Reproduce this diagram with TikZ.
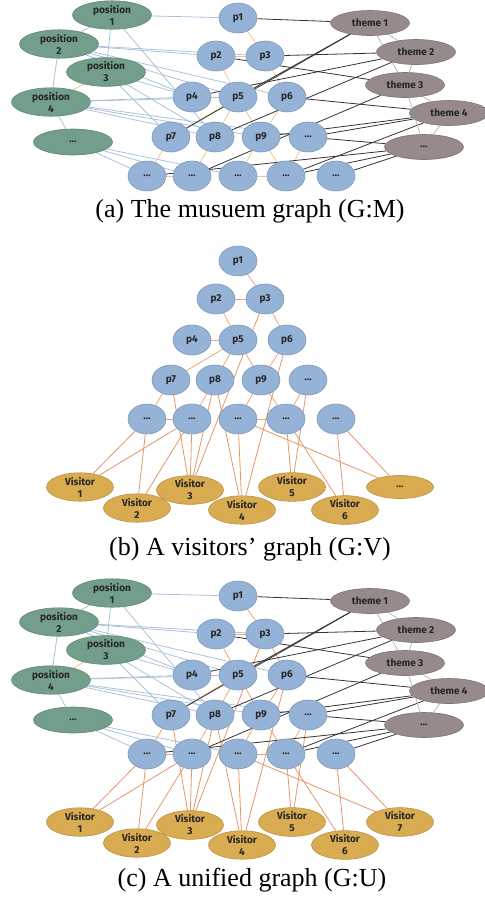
\documentclass[tikz,border=0pt]{standalone}
\usepackage{fontspec}
\setmainfont{Liberation Serif}
\setsansfont{Fira Sans}
\usetikzlibrary{shapes.geometric}
\usetikzlibrary{backgrounds}

\definecolor{pblue}{HTML}{95B3D7}
\definecolor{pgreen}{HTML}{739E8C}
\definecolor{tgrey}{HTML}{968A8A}
\definecolor{vgold}{HTML}{DAAC52}
\definecolor{posedge}{HTML}{A9C2DD}
\definecolor{pyrlight}{HTML}{F0C98A}
\definecolor{pyrorange}{HTML}{EAA874}
\definecolor{visedge}{HTML}{E4956A}
\definecolor{themeedge}{HTML}{333333}
\definecolor{ttedge}{HTML}{BDB8B8}

\begin{document}
\begin{tikzpicture}[x=0.5pt, y=-0.5pt,
  every node/.style={font=\sffamily\bfseries\fontsize{5}{6}\selectfont, text=black!85, align=center, inner sep=0pt},
  pnode/.style={ellipse, fill=pblue, draw=pblue!85!black, line width=.3pt, minimum width=19pt, minimum height=15pt},
  posnode/.style={ellipse, fill=pgreen, draw=pgreen!85!black, line width=.3pt, minimum width=39.5pt, minimum height=13pt},
  themenode/.style={ellipse, fill=tgrey, draw=tgrey!85!black, line width=.3pt, minimum width=39.5pt, minimum height=12.5pt},
  visnode/.style={ellipse, fill=vgold, draw=vgold!85!black, line width=.3pt, minimum width=33.5pt, minimum height=11.5pt},
  edge/.style={line width=.4pt},
  caption/.style={font=\rmfamily\fontsize{13}{15}\selectfont, text=black}]
\useasboundingbox (0,0) rectangle (484,901);

% positions and themes (museum part)
\foreach \g/\dy in {a/0,c/578}{
 \begin{scope}[shift={(0,\dy)}]
  \foreach \n/\x/\y/\t in {s1/112/15/{position\\1}, s2/59/44/{position\\2}, s3/106/72/{position\\3}, s4/51/102/{position\\4}, sx/73/142/…}
   \node[posnode] (\g\n) at (\x,\y) {\t};
  \foreach \n/\x/\y/\t in {t1/370/23/theme 1, t2/416/52/theme 2, t3/405/85/theme 3, t4/449/113/theme 4, tx/424/147/…}
   \node[themenode] (\g\n) at (\x,\y) {\t};
 \end{scope}
}

% the pyramid of places
\foreach \g/\dy in {a/0,b/243,c/578}{
 \begin{scope}[shift={(0,\dy)}]
  \foreach \n/\x/\y/\t in {p1/238/18/p1, p2/216/56/p2, p3/265/56/p3, p4/192/97/p4, p5/238/97/p5, p6/287/97/p6,
     p7/171/137/p7, p8/215/137/p8, p9/261/137/p9, q4/308/137/…,
     r1/147/176/…, r2/192/176/…, r3/238/176/…, r4/286/176/…, r5/336/176/…}
   \node[pnode] (\g\n) at (\x,\y) {\t};
 \end{scope}
}

% visitors
\foreach \g/\dy/\last in {b/243/…, c/578/{Visitor\\7}}{
 \begin{scope}[shift={(0,\dy)}]
  \foreach \n/\x/\y in {1/80/244, 2/137/265, 3/190/247, 4/242/267, 5/292/244, 6/345/267}
   \node[visnode] (\g v\n) at (\x,\y) {Visitor\\\n};
  \node[visnode] (\g v7) at (400,244) {\last};
 \end{scope}
}

\node[caption] (capa) at (250,211) {(a) The musuem graph (G:M)};
\node[caption] (capb) at (250,549) {(b) A visitors' graph (G:V)};
\node[caption] (capc) at (252,880) {(c) A unified graph (G:U)};

\begin{scope}[on background layer]
% edges between places
\foreach \g/\c in {a/pyrlight, b/pyrorange, c/pyrorange}
 \foreach \u/\v in {p1/p3, p2/p3, p2/p5, p3/p6, p4/p5, p5/p7, p5/p8, p5/p9, p6/p9, p7/r1, p8/r2, p9/r3, p9/r4, q4/r4, r1/r2, r3/r4}
  \draw[edge, draw=\c] (\g\u) -- (\g\v);
% visitors to places
\foreach \g in {b,c}
 \foreach \u/\v in {v1/r1, v1/r2, v2/r1, v2/r2, v3/p7, v3/p8, v3/p3, v3/r2, v4/p8, v4/r3, v4/p6, v5/r4, v5/q4, v6/r4, v6/r5, v7/r3, v7/r5}
  \draw[edge, draw=visedge] (\g\u) -- (\g\v);
% positions
\foreach \g in {a,c}{
 \foreach \u/\v in {s1/s2, s1/s3, s1/p1, s1/p8, s2/s4, s2/p2, s2/p3, s2/p4, s2/p5, s2/p6, s3/p4, s3/p7, s3/p8, s4/sx, s4/p4, s4/p5, s4/p8, s4/p9, s4/q4, sx/r1, sx/r2, sx/r3}
  \draw[edge, draw=posedge] (\g\u) -- (\g\v);
 \draw[edge, draw=pyrlight] (\g s3) -- (\g s4);
% themes
 \foreach \u/\v in {t1/p1, t1/p5, t1/p7, t2/p3, t2/p4, t2/p8, t3/p2, t3/r2, t4/p6, t4/q4, t4/p9, t4/r4, tx/r1, tx/q4, tx/r4, tx/r5}
  \draw[edge, draw=themeedge] (\g\u) -- (\g\v);
 \foreach \u/\v in {t1/t2, t1/t3, t2/t3, t3/t4, t3/tx, t4/tx}
  \draw[edge, draw=ttedge] (\g\u) -- (\g\v);
}
\end{scope}
\end{tikzpicture}
\end{document}
